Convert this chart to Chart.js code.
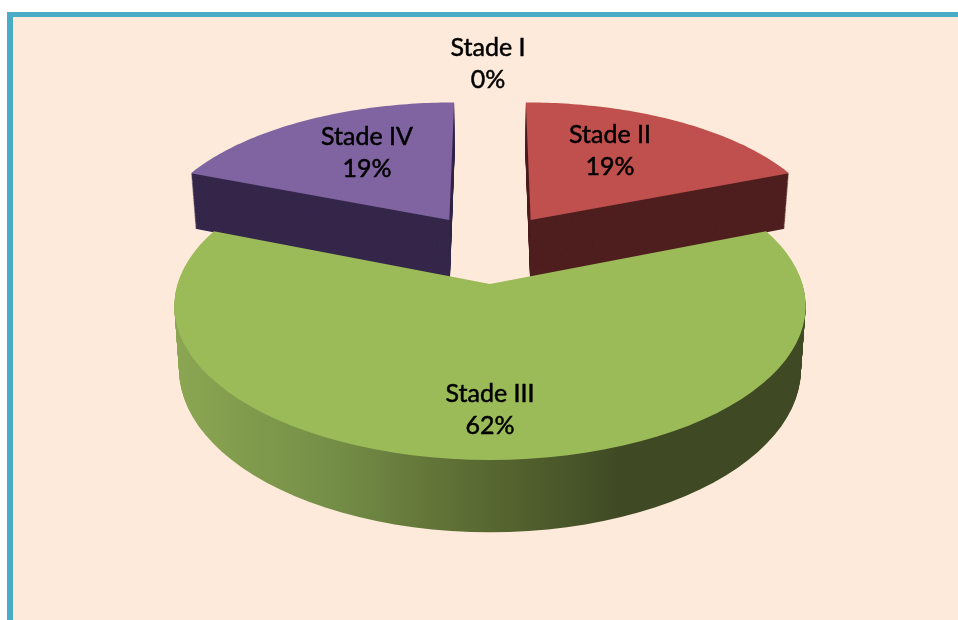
<!DOCTYPE html>
<html>
<head>
<meta charset="utf-8">
<script src="https://cdn.jsdelivr.net/npm/chart.js@4"></script>
<style>
html,body{margin:0;padding:0;background:#fff;overflow:hidden}
#frame{position:absolute;left:7px;top:12px;width:951px;height:608px;box-sizing:border-box;background:#FDEADA;border-left:6px solid #4BACC6;border-top:5.5px solid #4BACC6}
#c{position:absolute;left:0;top:0}
</style>
</head>
<body>
<div id="frame"></div>
<canvas id="c" width="958" height="620"></canvas>
<script>
const categories = ["Stade I", "Stade II", "Stade III", "Stade IV"];
const values = [0, 19, 62, 19];
const percentLabels = ["0%", "19%", "62%", "19%"];
const topColors = ["#4F81BD", "#C0504D", "#9BBB59", "#8064A2"];
const sideColors = ["#27405F", "#4F1F1F", "#3F4A24", "#35274A"];
const labelCentres = [[488, 62], [610, 149], [490, 408], [367, 151]];

// Perspective view of the pie plane
const view = { cx: 490, cy: 284, ax: 312.5, by: 151, p: 0.142, depth: 62, shrink: 0.015 };
function project(u, v, t) {
  const s = 1 / (1 - view.p * v);
  return [
    view.cx + view.ax * u * s * (1 - view.shrink * t),
    view.cy + view.by * v * s + view.depth * t * s
  ];
}
function slicePath(ctx, arc, t) {
  const R = arc.outerRadius;
  const mid = (arc.startAngle + arc.endAngle) / 2;
  const off = arc.options.offset / R;
  // the green slice's tip is the origin of the view
  const ou = off * Math.cos(mid);
  const ov = off * Math.sin(mid) + (-off);
  ctx.beginPath();
  let p = project(ou, ov, t);
  ctx.moveTo(p[0], p[1]);
  const steps = 72;
  for (let i = 0; i <= steps; i++) {
    const a = arc.startAngle + (arc.endAngle - arc.startAngle) * i / steps;
    p = project(ou + Math.cos(a), ov + Math.sin(a), t);
    ctx.lineTo(p[0], p[1]);
  }
  ctx.closePath();
}
const pie3d = {
  id: "pie3d",
  beforeDatasetsDraw(chart) {
    const ctx = chart.ctx;
    const arcs = chart.getDatasetMeta(0).data;
    const green = ctx.createLinearGradient(178, 0, 620, 0);
    green.addColorStop(0, "#8BA652");
    green.addColorStop(0.35, "#758E47");
    green.addColorStop(0.68, "#5A6A32");
    green.addColorStop(1, "#3F4A24");
    const order = [1, 3, 2];
    ctx.save();
    for (const i of order) {
      const arc = arcs[i];
      if (arc.circumference === 0) continue;
      const side = i === 2 ? green : sideColors[i];
      for (let d = view.depth; d > 0; d -= 1) {
        slicePath(ctx, arc, d / view.depth);
        ctx.fillStyle = side;
        ctx.fill();
      }
      slicePath(ctx, arc, 0);
      ctx.fillStyle = topColors[i];
      ctx.fill();
    }
    ctx.restore();
    return false;
  },
  afterDraw(chart) {
    const ctx = chart.ctx;
    ctx.save();
    ctx.fillStyle = "#000";
    ctx.strokeStyle = "#000";
    ctx.lineWidth = 0.5;
    ctx.textAlign = "center";
    ctx.textBaseline = "middle";
    ctx.font = "25px Lato";
    categories.forEach((name, i) => {
      const [x, y] = labelCentres[i];
      ctx.fillText(name, x, y - 14);
      ctx.strokeText(name, x, y - 14);
      ctx.fillText(percentLabels[i], x, y + 18);
      ctx.strokeText(percentLabels[i], x, y + 18);
    });
    ctx.restore();
  }
};
new Chart(document.getElementById("c"), {
  type: "pie",
  data: {
    labels: categories,
    datasets: [{ data: values, backgroundColor: topColors, borderWidth: 0, offset: 68 }]
  },
  options: {
    responsive: false,
    animation: false,
    layout: { padding: 0 },
    plugins: { legend: { display: false }, tooltip: { enabled: false } }
  },
  plugins: [pie3d]
});
</script>
</body>
</html>
